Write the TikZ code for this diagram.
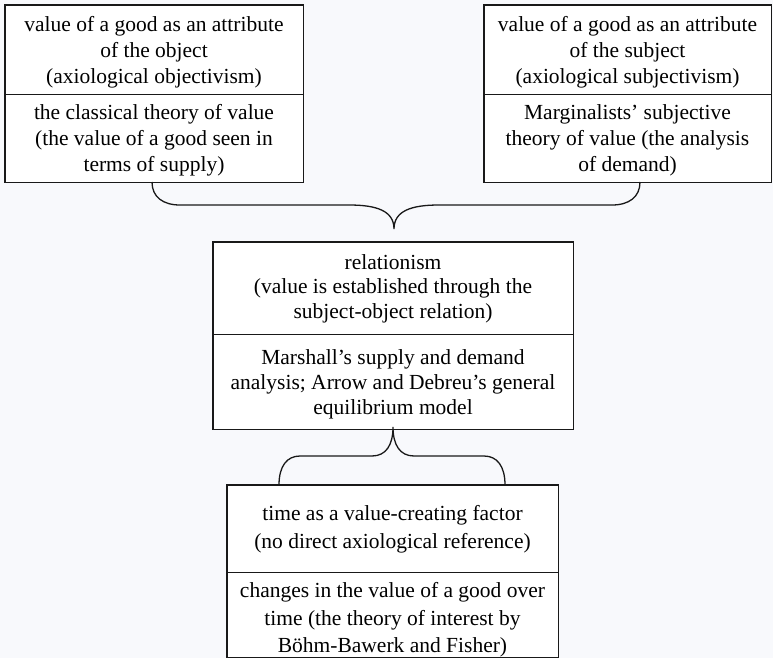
\documentclass[tikz,border=0pt]{standalone}
\usepackage{fontspec}
\setmainfont{Liberation Serif}
\definecolor{bgcol}{RGB}{248,249,252}
\definecolor{ink}{RGB}{25,25,25}
\begin{document}
\begin{tikzpicture}[x=1pt,y=-1pt,
  sect/.style={draw=ink,line width=0.9pt,fill=white,inner sep=0pt},
  txt/.style={inner sep=0pt,align=center,font=\fontsize{21.5}{#1}\selectfont},
  txt/.default=26,
  outer/.style={draw=ink,line width=1.7pt},
  brace/.style={draw=ink,line width=1.3pt}]
\fill[bgcol] (0,0) rectangle (773,658);
\useasboundingbox (0,0) rectangle (773,658);
% top left box
\node[sect,minimum width=298pt,minimum height=89pt] (tlA) at (154,49.5) {};
\node[sect,minimum width=298pt,minimum height=88pt] (tlB) at (154,138) {};
\draw[outer] (tlA.north west) rectangle (tlB.south east);
\node[txt] (tlAt) at (154,52)
  {value of a good as an attribute\\of the object\\(axiological objectivism)};
\node[txt] (tlBt) at (154,140.5)
  {the classical theory of value\\(the value of a good seen in\\terms of supply)};
% top right box
\node[sect,minimum width=287pt,minimum height=89pt] (trA) at (627.5,49.5) {};
\node[sect,minimum width=287pt,minimum height=88pt] (trB) at (627.5,138) {};
\draw[outer] (trA.north west) rectangle (trB.south east);
\node[txt] (trAt) at (627.5,52)
  {value of a good as an attribute\\of the subject\\(axiological subjectivism)};
\node[txt] (trBt) at (627.5,140.5)
  {Marginalists’ subjective\\theory of value (the analysis\\of demand)};
% middle box
\node[sect,minimum width=360pt,minimum height=92pt] (mA) at (393,288) {};
\node[sect,minimum width=360pt,minimum height=95pt] (mB) at (393,381.5) {};
\draw[outer] (mA.north west) rectangle (mB.south east);
\node[txt=24.5] (mAt) at (393,288.5)
  {relationism\\(value is established through the\\subject-object relation)};
\node[txt=25] (mBt) at (393,384)
  {Marshall’s supply and demand\\analysis; Arrow and Debreu’s general\\equilibrium model};
% bottom box
\node[sect,minimum width=331pt,minimum height=87pt] (bA) at (392.5,528.5) {};
\node[sect,minimum width=331pt,minimum height=85pt] (bB) at (392.5,614.5) {};
\draw[outer] (bA.north west) rectangle (bB.south east);
\node[txt=28] (bAt) at (392.5,529.5)
  {time as a value-creating factor\\(no direct axiological reference)};
\node[txt=27.5] (bBt) at (392.5,620)
  {changes in the value of a good over\\time (the theory of interest by\\Böhm-Bawerk and Fisher)};
% upper brace
\coordinate (ul) at (152,182);
\coordinate (ur) at (640,182);
\coordinate (ut) at (394,229);
\draw[brace] (ul) .. controls (152,197) and (163,205) .. (180,205) -- (349,205)
  .. controls (377,205) and (394,211) .. (ut)
  .. controls (394,211) and (411,205) .. (439,205) -- (612,205)
  .. controls (629,205) and (640,197) .. (ur);
% lower brace
\coordinate (ll) at (279,485);
\coordinate (lr) at (505,485);
\coordinate (lt) at (393,427);
\draw[brace] (ll) .. controls (279,466) and (287,456) .. (300,456) -- (372,456)
  .. controls (386,456) and (393,445) .. (lt)
  .. controls (393,445) and (400,456) .. (414,456) -- (484,456)
  .. controls (497,456) and (505,466) .. (lr);
\end{tikzpicture}
\end{document}
